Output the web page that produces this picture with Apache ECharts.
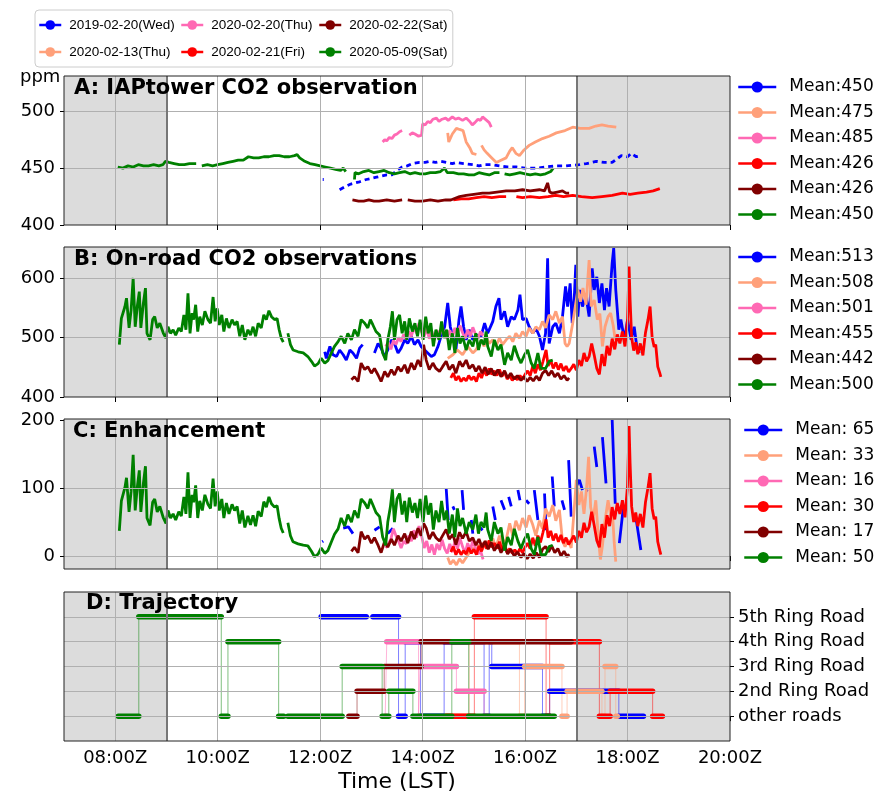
<!DOCTYPE html>
<html><head><meta charset="utf-8">
<script src="https://cdn.jsdelivr.net/npm/echarts@6/dist/echarts.min.js"></script>
<style>html,body{margin:0;padding:0;background:#fff}#c{width:879px;height:794px}</style>
</head><body><div id="c"></div>
<script>
const dates = ['2019-02-20(Wed)','2020-02-13(Thu)','2020-02-20(Thu)','2020-02-21(Fri)','2020-02-22(Sat)','2020-05-09(Sat)'];
const colors = ['#0000ff','#ffa07a','#ff69b4','#ff0000','#800000','#008000'];
const meanA = ['450','475','485','426','426','450'];
const meanB = ['513','508','501','455','442','500'];
const meanC = [' 65',' 33',' 16',' 30',' 17',' 50'];
const panelTitles = ['A: IAPtower CO2 observation','B: On-road CO2 observations','C: Enhancement','D: Trajectory'];
const ringNames = ['other roads','2nd Ring Road','3rd Ring Road','4th Ring Road','5th Ring Road'];
const xTicks = [8,10,12,14,16,18,20];
const xGrid = [8,10,12,14,16,18];
const shadeRanges = [[7,9],[17,20]];
const darkLines = [9,17];
const yTicksA = [400,450,500], yTicksB = [400,500,600], yTicksC = [0,100,200], yTicksD = [0,1,2,3,4];
const yGridA = [450,500], yGridB = [500,600], yGridC = [0,100], yGridD = [0,1,2,3,4];

// ---- Panel A: tower CO2 (ppm) ----
const blueA = [[12.05,440],[12.07,440],[12.1,null],[12.38,431],[12.5,434],[12.6,436],[12.77,438],[12.9,440],[13.0,441],[13.1,442],[13.2,443],[13.3,444],[13.4,444],[13.5,448],[13.6,451],[13.7,452],[13.8,454],[13.94,455],[14.05,455],[14.15,456],[14.25,455],[14.35,456],[14.47,455],[14.58,454],[14.66,455],[14.8,454],[14.98,453],[15.1,452],[15.2,453],[15.36,453],[15.5,452],[15.65,451],[15.83,451],[16.0,450],[16.22,450],[16.4,451],[16.61,452],[16.8,452],[17.06,453],[17.2,454],[17.39,456],[17.55,455],[17.7,455],[17.88,461],[18.0,460],[18.07,463],[18.17,460],[18.27,461]];
const salmonA = [[14.49,481],[14.51,473],[14.58,480],[14.66,485],[14.72,484],[14.79,483],[14.85,473],[14.92,468],[14.97,463],[15.05,462],[15.1,null],[15.15,470],[15.2,466],[15.26,463],[15.35,459],[15.44,455],[15.53,457],[15.63,459],[15.7,465],[15.75,468],[15.82,463],[15.89,461],[15.98,466],[16.08,470],[16.2,473],[16.34,476],[16.47,478],[16.61,481],[16.78,483],[16.93,486],[17.08,485],[17.25,485],[17.38,487],[17.5,488],[17.62,487],[17.78,486]];
const pinkA = [[13.22,473],[13.26,475],[13.3,474],[13.35,477],[13.4,476],[13.45,479],[13.5,480],[13.55,482],[13.6,483],[13.63,null],[13.74,479],[13.8,481],[13.85,480],[13.92,478],[13.98,479],[14.0,489],[14.05,488],[14.1,491],[14.15,490],[14.2,493],[14.27,494],[14.32,491],[14.38,493],[14.45,494],[14.5,492],[14.58,495],[14.64,493],[14.7,494],[14.78,492],[14.85,494],[14.92,491],[14.97,488],[15.02,490],[15.08,493],[15.13,492],[15.17,495],[15.25,492],[15.3,490],[15.34,486]];
const redA = [[14.6,422],[14.75,423],[14.9,423],[15.05,424],[15.2,425],[15.35,424],[15.5,425],[15.63,425],[15.7,null],[15.83,425],[15.95,424],[16.1,425],[16.28,424],[16.45,425],[16.6,426],[16.75,425],[16.93,426],[17.1,425],[17.31,424],[17.5,425],[17.7,426],[17.9,428],[18.05,427],[18.2,428],[18.37,429],[18.5,430],[18.63,432]];
const maroonA = [[12.63,422],[12.75,421],[12.85,421],[12.95,422],[13.05,421],[13.15,421],[13.3,422],[13.45,421],[13.6,422],[13.65,null],[13.71,422],[13.85,421],[14.0,421],[14.15,422],[14.3,421],[14.45,422],[14.55,422],[14.66,424],[14.72,425],[14.85,426],[15.0,427],[15.17,428],[15.3,428],[15.45,429],[15.63,430],[15.8,430],[15.95,431],[16.1,430],[16.28,431],[16.38,430],[16.44,437],[16.48,429],[16.53,428],[16.63,429],[16.73,430],[16.8,428],[16.86,428]];
const greenA = [[8.05,451],[8.15,450],[8.25,452],[8.35,451],[8.45,453],[8.55,452],[8.65,452],[8.75,453],[8.85,452],[8.93,453],[8.98,456],[9.05,455],[9.15,454],[9.25,453],[9.35,453],[9.45,454],[9.58,454],[9.63,null],[9.69,452],[9.8,453],[9.9,452],[10.0,453],[10.1,454],[10.2,455],[10.3,456],[10.4,457],[10.5,457],[10.6,460],[10.7,459],[10.8,459],[10.9,460],[11.0,460],[11.1,461],[11.2,461],[11.3,460],[11.4,460],[11.5,461],[11.55,462],[11.6,459],[11.7,456],[11.8,454],[11.9,453],[12.0,452],[12.1,451],[12.2,450],[12.3,449],[12.4,448],[12.45,450],[12.5,447],[12.55,null],[12.67,440],[12.68,446],[12.75,445],[12.85,447],[12.95,448],[13.05,446],[13.15,447],[13.25,448],[13.35,446],[13.45,445],[13.55,446],[13.65,447],[13.75,445],[13.85,446],[13.95,445],[14.05,445],[14.15,446],[14.25,446],[14.35,447],[14.43,450],[14.48,446],[14.6,446],[14.7,445],[14.8,445],[14.9,444],[15.0,444],[15.1,446],[15.2,445],[15.3,444],[15.4,446],[15.5,446],[15.55,null],[15.6,445],[15.7,444],[15.8,445],[15.9,446],[16.0,445],[16.1,444],[16.2,445],[16.3,444],[16.4,445],[16.5,447],[16.55,450]];

// ---- Panel B: on-road CO2 (ppm) ----
const blueB = [[12.09,476],[12.12,465],[12.19,485],[12.25,471],[12.32,468],[12.38,479],[12.45,471],[12.51,462],[12.58,479],[12.64,474],[12.71,465],[12.77,482],[12.83,488],[12.9,null],[13.06,474],[13.13,490],[13.19,482],[13.26,468],[13.32,479],[13.39,496],[13.45,490],[13.52,474],[13.58,482],[13.65,496],[13.71,490],[13.78,502],[13.84,488],[13.91,496],[13.97,485],[14.04,479],[14.10,474],[14.17,468],[14.23,471],[14.30,485],[14.36,502],[14.43,518],[14.49,558],[14.54,518],[14.59,502],[14.65,479],[14.71,530],[14.75,552],[14.80,518],[14.85,496],[14.91,513],[14.98,496],[15.04,504],[15.14,502],[15.21,524],[15.27,507],[15.37,527],[15.43,552],[15.49,566],[15.53,530],[15.6,544],[15.66,518],[15.73,535],[15.79,530],[15.86,546],[15.9,572],[15.95,530],[16.02,532],[16.08,518],[16.15,507],[16.21,516],[16.28,502],[16.34,479],[16.4,507],[16.44,633],[16.47,490],[16.54,518],[16.6,524],[16.67,507],[16.73,535],[16.79,586],[16.83,552],[16.88,591],[16.92,524],[16.96,566],[16.99,622],[17.03,535],[17.07,580],[17.12,552],[17.19,569],[17.25,535],[17.31,616],[17.35,580],[17.4,602],[17.45,558],[17.5,591],[17.55,546],[17.59,583],[17.64,552],[17.7,625],[17.73,650],[17.77,580],[17.83,513],[17.87,530],[17.94,496],[18.0,530],[18.07,496],[18.13,518],[18.18,485],[18.23,474]];
const salmonB = [[14.49,465],[14.59,471],[14.68,479],[14.78,471],[14.88,485],[14.98,474],[15.04,479],[15.1,488],[15.15,496],[15.2,485],[15.25,499],[15.3,490],[15.37,496],[15.43,485],[15.5,499],[15.56,488],[15.63,496],[15.7,502],[15.76,493],[15.82,507],[15.89,499],[15.95,510],[16.02,502],[16.08,516],[16.15,507],[16.21,518],[16.28,513],[16.34,527],[16.4,516],[16.47,538],[16.54,530],[16.6,544],[16.67,524],[16.73,535],[16.78,490],[16.82,485],[16.86,490],[16.93,524],[16.98,552],[17.03,580],[17.08,560],[17.13,583],[17.19,555],[17.25,630],[17.29,552],[17.35,563],[17.41,530],[17.46,540],[17.51,485],[17.56,518],[17.62,535],[17.67,541],[17.72,520],[17.76,496]];
const pinkB = [[13.28,485],[13.33,492],[13.38,480],[13.43,495],[13.48,488],[13.53,500],[13.58,493],[13.63,505],[13.68,497],[13.73,510],[13.78,502],[13.83,518],[13.88,507],[13.93,524],[13.98,510],[14.03,502],[14.08,515],[14.13,498],[14.18,510],[14.23,496],[14.28,512],[14.33,503],[14.38,518],[14.43,505],[14.48,498],[14.53,512],[14.58,500],[14.63,516],[14.68,505],[14.73,520],[14.78,508],[14.83,498],[14.88,513],[14.93,502],[14.98,517],[15.03,506],[15.08,498],[15.13,510],[15.18,503]];
const redB = [[14.55,432],[14.6,440],[14.65,428],[14.7,435],[14.75,426],[14.8,432],[14.85,427],[14.9,436],[14.95,429],[15.0,434],[15.05,426],[15.1,440],[15.15,432],[15.2,445],[15.25,436],[15.3,448],[15.35,438],[15.4,444],[15.45,436],[15.5,446],[15.55,435],[15.6,442],[15.65,430],[15.7,436],[15.75,428],[15.8,434],[15.85,429],[15.9,436],[15.95,430],[16.0,438],[16.05,444],[16.1,436],[16.15,452],[16.2,440],[16.25,455],[16.3,445],[16.35,460],[16.41,479],[16.45,452],[16.5,462],[16.55,448],[16.6,458],[16.65,446],[16.7,456],[16.75,444],[16.8,452],[16.85,442],[16.9,448],[16.95,455],[17.0,445],[17.05,462],[17.1,452],[17.15,474],[17.2,460],[17.25,468],[17.3,490],[17.35,470],[17.4,448],[17.45,438],[17.5,472],[17.55,452],[17.6,486],[17.65,470],[17.7,498],[17.75,480],[17.8,505],[17.85,490],[17.9,510],[17.95,485],[18.0,530],[18.03,619],[18.05,563],[18.08,500],[18.12,478],[18.16,492],[18.2,472],[18.25,490],[18.3,470],[18.35,508],[18.4,530],[18.44,552],[18.48,500],[18.52,484],[18.55,488],[18.59,451],[18.63,440],[18.65,434]];
const maroonB = [[12.61,429],[12.67,434],[12.74,426],[12.8,457],[12.87,446],[12.93,451],[13.0,440],[13.06,448],[13.13,437],[13.19,426],[13.26,443],[13.32,434],[13.39,446],[13.45,437],[13.52,451],[13.58,443],[13.65,454],[13.71,440],[13.78,457],[13.84,446],[13.91,462],[13.97,451],[14.02,488],[14.07,462],[14.13,446],[14.2,457],[14.26,448],[14.33,443],[14.39,451],[14.46,460],[14.52,446],[14.59,454],[14.65,440],[14.72,460],[14.78,451],[14.85,462],[14.91,448],[14.98,454],[15.04,443],[15.1,452],[15.16,440],[15.22,450],[15.28,438],[15.34,448],[15.4,436],[15.47,446],[15.53,434],[15.6,444],[15.66,432],[15.72,440],[15.79,430],[15.85,436],[15.92,428],[15.98,434],[16.04,426],[16.1,433],[16.16,427],[16.22,435],[16.28,428],[16.34,440],[16.4,445],[16.46,436],[16.52,444],[16.58,434],[16.64,440],[16.7,430],[16.76,436],[16.82,428],[16.86,432]];
const greenB = [[8.08,488],[8.12,532],[8.19,552],[8.22,566],[8.27,516],[8.31,546],[8.35,600],[8.39,518],[8.43,552],[8.47,577],[8.50,516],[8.55,558],[8.59,583],[8.62,507],[8.68,496],[8.73,530],[8.77,535],[8.82,516],[8.87,524],[8.94,507],[8.99,499],[9.03,518],[9.08,507],[9.13,513],[9.18,504],[9.24,516],[9.29,510],[9.34,538],[9.38,513],[9.42,574],[9.46,507],[9.50,541],[9.53,530],[9.57,555],[9.61,510],[9.65,535],[9.70,521],[9.75,544],[9.81,530],[9.86,524],[9.91,568],[9.95,527],[9.99,549],[10.03,521],[10.08,538],[10.12,510],[10.17,532],[10.22,516],[10.28,530],[10.33,521],[10.38,527],[10.43,502],[10.48,521],[10.53,496],[10.59,513],[10.64,504],[10.69,518],[10.74,502],[10.79,524],[10.85,516],[10.90,538],[10.95,530],[11.00,545],[11.05,535],[11.11,530],[11.16,532],[11.20,513],[11.24,499],[11.28,492],[11.32,null],[11.37,507],[11.42,488],[11.47,479],[11.57,476],[11.67,474],[11.76,468],[11.83,460],[11.89,452],[11.96,456],[12.02,465],[12.09,457],[12.15,461],[12.22,474],[12.28,485],[12.35,493],[12.41,502],[12.48,490],[12.54,507],[12.61,496],[12.67,513],[12.74,502],[12.80,530],[12.87,524],[12.93,516],[12.98,530],[13.03,521],[13.09,510],[13.16,504],[13.22,474],[13.28,462],[13.32,496],[13.37,518],[13.41,544],[13.45,496],[13.50,530],[13.55,538],[13.60,507],[13.65,527],[13.69,496],[13.74,532],[13.80,510],[13.85,524],[13.90,502],[13.95,530],[14.01,496],[14.06,535],[14.11,507],[14.16,524],[14.21,485],[14.26,513],[14.32,496],[14.37,527],[14.42,499],[14.47,513],[14.52,479],[14.58,507],[14.63,474],[14.68,516],[14.73,490],[14.78,502],[14.85,479],[14.91,496],[14.98,485],[15.04,507],[15.09,479],[15.14,496],[15.20,488],[15.24,510],[15.27,485],[15.34,468],[15.40,496],[15.47,479],[15.53,488],[15.60,454],[15.66,474],[15.73,462],[15.79,486],[15.86,468],[15.92,457],[15.99,471],[16.05,479],[16.12,457],[16.18,448],[16.25,474],[16.31,448],[16.40,448],[16.47,460],[16.54,462]];

// ---- Panel C: enhancement (ppm) ----
const blueC = [[12.04,21],[12.06,22],[12.07,null],[12.45,41],[12.55,43],[12.64,33],[12.66,null],[13.06,38],[13.16,43],[13.18,null],[13.32,33],[13.42,41],[13.44,null],[14.46,100],[14.5,53],[14.52,null],[14.59,73],[14.62,68],[14.63,null],[14.77,97],[14.8,68],[14.81,null],[14.95,53],[14.98,33],[14.99,null],[15.11,43],[15.17,38],[15.18,null],[15.37,73],[15.42,53],[15.43,null],[15.53,82],[15.6,68],[15.61,null],[15.68,87],[15.73,73],[15.74,null],[15.86,97],[15.9,82],[15.91,null],[16.02,82],[16.08,77],[16.09,null],[16.18,97],[16.25,53],[16.26,null],[16.38,92],[16.41,38],[16.42,null],[16.53,117],[16.57,73],[16.58,null],[16.72,82],[16.77,68],[16.78,null],[16.85,141],[16.9,58],[16.91,null],[17.0,102],[17.06,112],[17.12,97],[17.13,null],[17.19,97],[17.22,95],[17.23,null],[17.35,161],[17.4,131],[17.41,null],[17.51,175],[17.58,107],[17.59,null],[17.7,200],[17.76,77],[17.77,null],[17.84,19],[17.92,73],[17.93,null],[18.16,58],[18.26,9]];
const salmonC = [[14.49,-2],[14.54,-12],[14.6,-6],[14.66,-13],[14.72,-4],[14.78,-10],[14.85,-2],[14.91,5],[14.98,12],[15.04,8],[15.1,17],[15.17,10],[15.24,22],[15.3,14],[15.37,26],[15.43,12],[15.5,30],[15.56,18],[15.63,24],[15.7,48],[15.76,30],[15.82,52],[15.89,38],[15.95,56],[16.02,42],[16.08,60],[16.15,46],[16.21,30],[16.28,52],[16.34,40],[16.4,70],[16.47,58],[16.54,75],[16.6,52],[16.67,68],[16.73,22],[16.78,14],[16.84,24],[16.9,12],[16.95,60],[17.0,112],[17.05,75],[17.1,95],[17.15,62],[17.2,100],[17.24,146],[17.28,72],[17.33,55],[17.38,82],[17.43,28],[17.47,-5],[17.51,15],[17.56,52],[17.62,82],[17.67,60],[17.71,58],[17.74,20],[17.77,-8]];
const pinkC = [[13.28,12],[13.33,18],[13.38,25],[13.43,40],[13.48,30],[13.53,22],[13.58,12],[13.63,22],[13.68,18],[13.73,30],[13.78,22],[13.83,38],[13.88,27],[13.93,44],[13.98,30],[14.03,12],[14.08,22],[14.13,5],[14.18,17],[14.23,2],[14.28,18],[14.33,9],[14.38,24],[14.43,11],[14.48,4],[14.53,18],[14.58,6],[14.63,22],[14.68,11],[14.73,26],[14.78,14],[14.83,4],[14.88,19],[14.93,8],[14.98,23],[15.03,12],[15.08,3],[15.13,8],[15.18,-5]];
const redC = [[14.55,6],[14.6,14],[14.65,2],[14.7,10],[14.75,2],[14.8,8],[14.85,3],[14.9,12],[14.95,4],[15.0,10],[15.05,2],[15.1,15],[15.15,7],[15.2,20],[15.25,11],[15.3,23],[15.35,13],[15.4,19],[15.45,11],[15.5,21],[15.55,10],[15.6,17],[15.65,5],[15.7,11],[15.75,4],[15.8,9],[15.85,4],[15.9,11],[15.95,5],[16.0,13],[16.05,19],[16.1,11],[16.15,27],[16.2,15],[16.25,30],[16.3,20],[16.35,35],[16.41,54],[16.45,27],[16.5,37],[16.55,23],[16.6,33],[16.65,21],[16.7,31],[16.75,19],[16.8,27],[16.85,17],[16.9,23],[16.95,30],[17.0,20],[17.05,37],[17.1,27],[17.15,49],[17.2,35],[17.25,43],[17.3,65],[17.35,45],[17.4,23],[17.45,13],[17.5,47],[17.55,27],[17.6,60],[17.65,44],[17.7,72],[17.75,54],[17.8,78],[17.85,62],[17.9,82],[17.95,57],[18.0,104],[18.03,191],[18.05,136],[18.08,73],[18.12,50],[18.16,64],[18.2,44],[18.25,62],[18.3,42],[18.35,79],[18.4,101],[18.44,122],[18.48,70],[18.52,54],[18.55,58],[18.59,21],[18.63,8],[18.65,2]];
const maroonC = [[12.61,7],[12.67,13],[12.74,5],[12.8,36],[12.87,25],[12.93,30],[13.0,19],[13.06,27],[13.13,16],[13.19,5],[13.26,22],[13.32,13],[13.39,25],[13.45,16],[13.52,30],[13.58,22],[13.65,33],[13.71,19],[13.78,36],[13.84,25],[13.91,41],[13.97,30],[14.02,48],[14.07,41],[14.13,25],[14.2,35],[14.26,27],[14.33,22],[14.39,30],[14.46,39],[14.52,25],[14.59,32],[14.65,17],[14.72,35],[14.78,26],[14.85,36],[14.91,22],[14.98,27],[15.04,16],[15.1,25],[15.16,13],[15.22,22],[15.28,10],[15.34,20],[15.4,8],[15.47,17],[15.53,5],[15.6,15],[15.66,3],[15.72,10],[15.79,0],[15.85,6],[15.92,-2],[15.98,4],[16.04,-4],[16.1,3],[16.16,-3],[16.22,5],[16.28,-2],[16.34,10],[16.4,14],[16.46,6],[16.52,15],[16.58,5],[16.64,11],[16.7,0],[16.76,7],[16.82,-1],[16.86,3]];
const greenC = [[8.08,37],[8.12,81],[8.19,101],[8.22,115],[8.27,65],[8.31,95],[8.35,149],[8.39,67],[8.43,101],[8.47,126],[8.50,65],[8.55,107],[8.59,132],[8.62,56],[8.68,45],[8.73,79],[8.77,84],[8.82,65],[8.87,73],[8.94,56],[8.99,48],[9.03,67],[9.08,56],[9.13,62],[9.18,53],[9.24,65],[9.29,59],[9.34,87],[9.38,62],[9.42,123],[9.46,56],[9.50,90],[9.53,79],[9.57,104],[9.61,56],[9.65,81],[9.70,67],[9.75,90],[9.81,76],[9.86,70],[9.91,114],[9.95,73],[9.99,95],[10.03,67],[10.08,84],[10.12,56],[10.17,78],[10.22,62],[10.28,76],[10.33,67],[10.38,73],[10.43,48],[10.48,67],[10.53,42],[10.59,59],[10.64,46],[10.69,60],[10.74,44],[10.79,66],[10.85,58],[10.90,80],[10.95,72],[11.00,87],[11.05,77],[11.11,72],[11.16,74],[11.20,55],[11.24,41],[11.28,34],[11.32,null],[11.37,49],[11.42,30],[11.47,21],[11.57,18],[11.67,16],[11.76,15],[11.83,7],[11.89,-1],[11.96,3],[12.02,12],[12.09,4],[12.15,8],[12.22,21],[12.28,32],[12.35,40],[12.41,56],[12.48,44],[12.54,61],[12.61,50],[12.67,67],[12.74,56],[12.80,84],[12.87,78],[12.93,70],[12.98,84],[13.03,75],[13.09,64],[13.16,58],[13.22,28],[13.28,16],[13.32,50],[13.37,72],[13.41,98],[13.45,50],[13.50,84],[13.55,92],[13.60,61],[13.65,81],[13.69,50],[13.74,86],[13.80,64],[13.85,78],[13.90,56],[13.95,84],[14.01,50],[14.06,89],[14.11,61],[14.16,78],[14.21,39],[14.26,67],[14.32,50],[14.37,81],[14.42,53],[14.47,67],[14.52,33],[14.58,61],[14.63,28],[14.68,70],[14.73,44],[14.78,56],[14.85,33],[14.91,50],[14.98,39],[15.04,61],[15.09,33],[15.14,50],[15.20,42],[15.24,64],[15.27,39],[15.34,22],[15.40,50],[15.47,33],[15.53,42],[15.60,8],[15.66,28],[15.73,16],[15.79,40],[15.86,22],[15.92,11],[15.99,25],[16.05,33],[16.12,11],[16.18,2],[16.25,28],[16.31,2],[16.40,2],[16.47,14],[16.54,16]];

// ---- Panel D: trajectory segments [start, end, road level] ----
const blueD = [[12.02,12.9,4],[13.03,13.53,4],[13.53,13.66,0],[13.66,13.96,3],[13.96,14.42,0],[14.42,15.2,3],[15.2,15.3,0],[15.3,15.35,3],[15.35,16.34,2],[16.34,16.48,0],[16.48,17.83,1],[17.83,18.31,0]];
const salmonD = [[14.45,14.91,0],[14.91,15.89,3],[15.89,15.99,0],[15.99,16.72,2],[16.72,16.82,0],[16.82,17.5,1],[17.5,17.56,0],[17.56,17.77,2],[17.77,17.8,0]];
const pinkD = [[13.27,13.3,0],[13.3,13.92,3],[13.92,13.95,0],[13.95,14.66,2],[14.66,15.2,1],[15.2,15.28,0]];
const redD = [[14.46,15.01,0],[15.01,16.41,4],[16.41,16.48,0],[16.48,17.45,3],[17.45,17.66,0],[17.66,18.49,1],[18.49,18.68,0]];
const maroonD = [[12.56,12.72,0],[12.72,13.25,1],[13.25,13.97,2],[13.97,16.9,3]];
const greenD = [[8.06,8.46,0],[8.46,10.07,4],[10.07,10.2,0],[10.2,11.19,3],[11.19,11.29,0],[11.37,12.43,0],[12.43,13.21,2],[13.21,13.34,0],[13.34,13.81,1],[13.81,14.57,0],[14.57,14.9,3],[14.9,16.57,0]];

const panels = [
  [blueA, salmonA, pinkA, redA, maroonA, greenA],
  [blueB, salmonB, pinkB, redB, maroonB, greenB],
  [blueC, salmonC, pinkC, redC, maroonC, greenC]
];
const trajs = [blueD, salmonD, pinkD, redD, maroonD, greenD];

const FONT = 'DejaVu Sans';
const gridTops = [76, 247, 419, 592];
const gridHeights = [149, 150, 150, 149];
const yRanges = [[400,531],[400,652],[-19,201.5],[-1,5]];
const yTicks = [yTicksA, yTicksB, yTicksC, yTicksD];
const yGrids = [yGridA, yGridB, yGridC, yGridD];

const grid = gridTops.map((t,i)=>({left:64, width:666, top:t, height:gridHeights[i], show:true, z:10,
  backgroundColor:'transparent', borderColor:'#222', borderWidth:1}));

const xAxis = gridTops.map((t,i)=>({type:'value', gridIndex:i, min:7, max:20,
  axisLine:{show:false}, splitLine:{show:false},
  axisTick:{show:true, customValues:xTicks, length:5, lineStyle:{color:'#000'}},
  axisLabel:{show:i===3, customValues:xTicks, fontSize:18, color:'#000', fontFamily:FONT, margin:8,
    formatter:v=>(v<10?'0':'')+v+':00Z'},
  name: i===3 ? 'Time (LST)' : '', nameLocation:'middle', nameGap:30,
  nameTextStyle:{fontSize:22, color:'#000', fontFamily:FONT}
}));

const yAxis = gridTops.map((t,i)=>({type:'value', gridIndex:i, min:yRanges[i][0], max:yRanges[i][1],
  position: i===3 ? 'right' : 'left',
  axisLine:{show:false}, splitLine:{show:false},
  axisTick:{show:true, customValues:yTicks[i], length:4, lineStyle:{color:'#000'}},
  axisLabel:{customValues:yTicks[i], fontSize:18, color:'#000', fontFamily:FONT, margin: i===3 ? 8 : 9,
    formatter: i===3 ? (v=>ringNames[v]) : (v=>String(v))}
}));

const series = [];
for (let g=0; g<4; g++) {
  series.push({type:'line', xAxisIndex:g, yAxisIndex:g, data:[], z:1, silent:true,
    markArea:{silent:true, itemStyle:{color:'#dcdcdc'}, data: shadeRanges.map(r=>[{xAxis:r[0]},{xAxis:r[1]}])}});
  series.push({type:'line', xAxisIndex:g, yAxisIndex:g, data:[], z:2, silent:true,
    markLine:{silent:true, symbol:['none','none'], label:{show:false},
      data: [
        ...xGrid.map(v=>({xAxis:v, lineStyle:{color:'#b0b0b0', width:1, type:'solid'}})),
        ...yGrids[g].map(v=>({yAxis:v, lineStyle:{color:'#b0b0b0', width:1, type:'solid'}})),
        ...darkLines.map(v=>({xAxis:v, lineStyle:{color:'#777', width:2, type:'solid'}}))
      ]}});
}
panels.forEach((arr,g)=>arr.forEach((d,i)=>{
  series.push({name:'ABC'[g]+i, type:'line', xAxisIndex:g, yAxisIndex:g, data:d,
    showSymbol:false, symbol:'circle', symbolSize:6, connectNulls:false, z:3,
    lineStyle:{color:colors[i], width:2.8, type:(g===0&&i===0)?[5,4]:'solid'},
    itemStyle:{color:colors[i]}});
}));
trajs.forEach((segs,i)=>{
  const thin=[], thick=[];
  segs.forEach(s=>{ thin.push([s[0],s[2]],[s[1],s[2]]); thick.push([s[0],s[2]],[s[1],s[2]],[s[1],null]); });
  series.push({name:'Dthin'+i, type:'line', xAxisIndex:3, yAxisIndex:3, data:thin, showSymbol:false, z:3, silent:true,
    lineStyle:{color:colors[i], width:1, opacity:0.5}});
  series.push({name:'Dthick'+i, type:'line', xAxisIndex:3, yAxisIndex:3, data:thick, showSymbol:false, z:4, silent:true,
    connectNulls:false, lineStyle:{color:colors[i], width:5.5, cap:'round'}});
});

const idx = [0,1,2,3,4,5];
function topLegend(names, left, top, extra) {
  return Object.assign({orient:'vertical', left, top, itemGap:8, itemWidth:22, itemHeight:12, padding:0,
    selectedMode:false, data:names, formatter:n=>dates[+n.slice(1)],
    lineStyle:{type:'solid', width:2.5},
    textStyle:{fontSize:13.5, color:'#000', fontFamily:'Liberation Sans', lineHeight:19, padding:[0,0,0,3]}, z:6}, extra||{});
}
function rightLegend(prefix, means, left, top) {
  return {orient:'vertical', left, top, itemGap:5.5, itemWidth:38, itemHeight:14, padding:0, selectedMode:false,
    data: idx.map(i=>prefix+i), formatter:n=>'Mean:'+means[+n.slice(1)],
    lineStyle:{type:'solid', width:2.5},
    textStyle:{fontSize:17, color:'#000', fontFamily:FONT, lineHeight:20, padding:[0,0,0,8]}};
}
const legend = [
  topLegend(['B0','B1'], 35, 10, {padding:[5.5,278,5.5,3], backgroundColor:'#fff', borderColor:'#ccc', borderWidth:1, borderRadius:4, z:5}),
  topLegend(['B2','B3'], 180, 15.5),
  topLegend(['B4','B5'], 318, 15.5),
  rightLegend('A', meanA, 737, 77),
  rightLegend('B', meanB, 737, 247),
  rightLegend('C', meanC, 743, 420)
];

const title = [
  {text:'ppm', left:20, top:68, padding:0, textStyle:{fontSize:18, fontWeight:'normal', color:'#000', fontFamily:FONT}},
  {text:panelTitles[0], left:74, top:78, padding:0, textStyle:{fontSize:21, fontWeight:'bold', color:'#000', fontFamily:FONT}},
  {text:panelTitles[1], left:74, top:249, padding:0, textStyle:{fontSize:21, fontWeight:'bold', color:'#000', fontFamily:FONT}},
  {text:panelTitles[2], left:73, top:421, padding:0, textStyle:{fontSize:21, fontWeight:'bold', color:'#000', fontFamily:FONT}},
  {text:panelTitles[3], left:86, top:593, padding:0, textStyle:{fontSize:21, fontWeight:'bold', color:'#000', fontFamily:FONT}}
];

const chart = echarts.init(document.getElementById('c'), null, {renderer:'canvas'});
chart.setOption({animation:false, backgroundColor:'#fff', textStyle:{fontFamily:FONT},
  title, legend, grid, xAxis, yAxis, series});
</script></body></html>
